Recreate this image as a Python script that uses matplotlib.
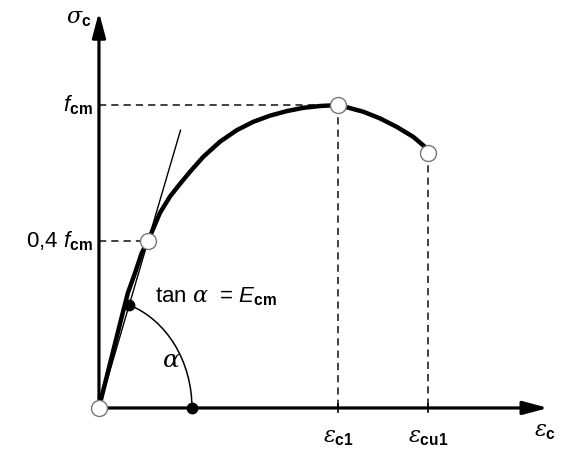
import matplotlib.pyplot as plt
import numpy as np
from matplotlib.patches import Arc

plt.rcParams['font.family'] = 'Liberation Sans'
plt.rcParams['mathtext.fontset'] = 'custom'
plt.rcParams['mathtext.rm'] = 'Liberation Sans'
plt.rcParams['mathtext.it'] = 'DejaVu Serif:italic'
plt.rcParams['mathtext.sf'] = 'Liberation Sans:italic'
plt.rcParams['mathtext.bf'] = 'Liberation Sans:bold'

# stress-strain curve (eps / eps_c1, sigma / f_cm)
eps = [0.0, 0.011, 0.053, 0.095, 0.121, 0.151, 0.179, 0.205, 0.255, 0.297,
       0.339, 0.381, 0.436, 0.506, 0.576, 0.646, 0.715, 0.785, 0.855, 0.925,
       1.0, 1.022, 1.106, 1.176, 1.246, 1.315, 1.364, 1.377]
sig = [0.0, 0.036, 0.168, 0.300, 0.380, 0.446, 0.512, 0.551, 0.644, 0.698,
       0.740, 0.780, 0.829, 0.879, 0.917, 0.945, 0.965, 0.980, 0.991, 0.997,
       1.0, 0.996, 0.978, 0.956, 0.928, 0.895, 0.862, 0.842]

# marked points
eps_c1, f_cm = 1.0, 1.0
eps_cu1, sig_cu1 = 1.377, 0.842
eps_04, sig_04 = 0.205, 0.551      # point drawn as "0,4 fcm"
sec_top = 0.917                    # where the secant line stops
sig_dot = 0.34                     # black dot on the secant
eps_arc_end = 0.389                # black dot on the strain axis

# axis extents
x_tip, y_tip = 1.879, 1.307

fig = plt.figure(figsize=(5.84, 4.54), dpi=100)
ax = fig.add_axes([0, 0, 1, 1])
ax.set_xlim(-0.414, 2.029)
ax.set_ylim(-0.152, 1.347)
ax.axis('off')

# axes with arrows
arrow = dict(arrowstyle='-|>,head_length=0.75,head_width=0.2', lw=2.3,
             color='black', mutation_scale=20, shrinkA=0, shrinkB=0)
ax.annotate('', xy=(0, y_tip), xytext=(0, 0), arrowprops=arrow, zorder=2)
ax.annotate('', xy=(x_tip, 0), xytext=(0, 0), arrowprops=arrow, zorder=2)

# dashed helper lines
dash = dict(color='#333333', lw=1.3, linestyle=(0, (4, 2.8)), zorder=1)
ax.plot([0, eps_c1], [f_cm, f_cm], **dash)
ax.plot([eps_c1, eps_c1], [f_cm, 0], **dash)
ax.plot([eps_cu1, eps_cu1], [sig_cu1, 0], **dash)
ax.plot([0, eps_04], [sig_04, sig_04], **dash)

# small ticks on the strain axis
for xe in (eps_c1, eps_cu1):
    ax.plot([xe, xe], [-0.012, 0.012], color='black', lw=1.2, zorder=2)

# secant line (E_cm)
slope = sig_04 / eps_04
ax.plot([0, sec_top / slope], [0, sec_top], color='black', lw=1.0, zorder=3)

# curve
ax.plot(eps, sig, color='black', lw=3.2, solid_joinstyle='round',
        solid_capstyle='round', zorder=4)

# angle arc
eps_dot = sig_dot / slope
arc_h = 2 * sig_dot / np.sin(np.arccos(eps_dot / eps_arc_end))
theta2 = np.degrees(np.arctan2(sig_dot, eps_dot))
ax.add_patch(Arc((0, 0), 2 * eps_arc_end, arc_h, theta1=0, theta2=theta2,
                 color='black', lw=1.1, zorder=3))

# points
ax.plot([eps_dot, eps_arc_end], [sig_dot, 0], 'o', color='black', ms=7.5, zorder=6)
ax.plot([0, eps_04, eps_c1, eps_cu1], [0, sig_04, f_cm, sig_cu1], 'o',
        mfc='white', mec='#777777', mew=1.0, ms=11.5, zorder=6)

# labels
fs = 16
ax.text(-0.03, 1.287, r'$\sigma_{\mathbf{c}}$', ha='right', va='center', fontsize=fs)
ax.text(-0.025, f_cm, r'$\mathsf{f}_{\mathbf{cm}}$', ha='right', va='center', fontsize=fs)
ax.text(-0.025, sig_04, r'0,4 $\mathsf{f}_{\mathbf{cm}}$', ha='right', va='center', fontsize=fs)
ax.text(0.234, 0.366, r'tan $\alpha$  = $\mathsf{E}_{\mathbf{cm}}$', ha='left', va='center',
        fontsize=fs)
ax.text(0.301, 0.158, r'$\alpha$', ha='center', va='center', fontsize=fs + 2)
ax.text(eps_c1, -0.099, r'$\varepsilon_{\mathbf{c1}}$', ha='center', va='center', fontsize=fs)
ax.text(eps_cu1, -0.099, r'$\varepsilon_{\mathbf{cu1}}$', ha='center', va='center', fontsize=fs)
ax.text(1.866, -0.079, r'$\varepsilon_{\mathbf{c}}$', ha='center', va='center', fontsize=fs)

fig.savefig('out.png', dpi=100)
